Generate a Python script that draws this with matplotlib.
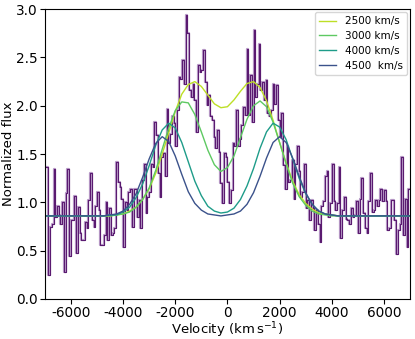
import numpy as np
import matplotlib
matplotlib.use("Agg")
import matplotlib.pyplot as plt

plt.rcParams["axes.unicode_minus"] = False

# observed spectrum, binned (flux per velocity bin, -7000 .. 7000 km/s)
flux = np.array([
    1.37, 1.37, 0.25, 0.75, 0.78, 1.35, 0.85, 0.96, 0.87, 0.78, 1.00, 0.28, 1.10,
    1.35, 0.45, 0.82, 0.82, 1.07, 0.48, 0.95, 0.68, 0.61, 0.61, 0.80, 0.73, 1.02,
    1.30, 0.82, 0.75, 0.96, 1.11, 0.92, 0.56, 0.56, 0.66, 1.00, 0.61, 0.94, 0.66,
    0.68, 0.73, 1.42, 1.21, 1.16, 1.04, 0.54, 1.00, 0.92, 1.11, 1.14, 0.75, 1.14,
    # -3500 .. 0
    1.14, 0.85, 1.02, 0.73, 1.23, 1.40, 0.89, 1.06, 1.11, 1.40, 1.37, 1.83, 1.70,
    1.30, 1.06, 1.47, 1.51, 1.27, 1.97, 1.61, 1.71, 1.89, 1.82, 1.58, 1.96, 2.30,
    2.28, 2.47, 2.23, 2.94, 2.75, 2.16, 2.09, 2.23, 2.06, 1.73, 2.42, 2.35, 2.37,
    2.58, 2.25, 2.01, 2.11, 1.89, 1.85, 1.68, 1.56, 1.75, 1.52, 1.20, 0.99, 1.51,
    1.47,
    # 0 .. 3500
    1.21, 0.99, 1.13, 1.61, 1.58, 1.96, 1.58, 1.66, 1.80, 1.99, 1.90, 2.59, 1.90,
    2.32, 1.83, 2.78, 2.09, 2.23, 2.64, 2.16, 2.25, 2.06, 2.27, 1.92, 1.89, 1.96,
    2.23, 2.02, 2.21, 1.85, 1.68, 1.92, 1.39, 1.14, 1.58, 1.21, 1.23, 1.44, 1.04,
    1.40, 1.58, 1.33, 1.06, 1.11, 1.40, 0.94, 1.02, 0.82, 1.02, 0.94, 0.71, 0.92,
    # 3500 .. 7000
    0.78, 0.59, 0.96, 1.01, 1.27, 1.33, 0.85, 0.99, 1.40, 1.01, 0.92, 0.99, 1.37,
    0.63, 0.92, 1.06, 0.83, 0.82, 0.78, 0.94, 0.85, 0.87, 1.01, 0.68, 1.04, 1.25,
    0.89, 0.73, 0.68, 1.01, 1.30, 0.90, 0.92, 1.02, 0.96, 1.02, 1.14, 1.01, 1.13,
    1.01, 0.71, 0.73, 1.02, 1.02, 0.82, 0.47, 0.71, 0.78, 1.47, 0.66, 1.04, 0.54,
    1.14,
])
edges = np.linspace(-7000, 7000, len(flux) + 1)
vel = 0.5 * (edges[:-1] + edges[1:])

# model profiles, sampled every 250 km/s
model_vel = np.concatenate([[-7000], np.arange(-4750, 4251, 250), [7000]])
m2500 = [0.86,
         0.86, 0.86, 0.87, 0.88, 0.91, 0.95, 1.03, 1.14, 1.30, 1.50,
         1.72, 1.94, 2.12, 2.22, 2.25, 2.20, 2.11, 2.02, 1.98, 1.99,
         2.06, 2.15, 2.23, 2.25, 2.19, 2.05, 1.85, 1.62, 1.41, 1.22,
         1.08, 0.99, 0.93, 0.89, 0.88, 0.87, 0.86,
         0.86]
m3000 = [0.86,
         0.86, 0.86, 0.87, 0.88, 0.90, 0.95, 1.03, 1.15, 1.33, 1.55,
         1.77, 1.95, 2.04, 2.03, 1.91, 1.73, 1.54, 1.39, 1.32, 1.36,
         1.48, 1.67, 1.86, 2.00, 2.05, 1.99, 1.83, 1.62, 1.40, 1.20,
         1.06, 0.97, 0.91, 0.88, 0.87, 0.86, 0.86,
         0.86]
m4000 = [0.86,
         0.86, 0.87, 0.87, 0.90, 0.95, 1.05, 1.19, 1.38, 1.59, 1.75,
         1.82, 1.77, 1.62, 1.42, 1.22, 1.07, 0.96, 0.91, 0.89, 0.90,
         0.94, 1.03, 1.17, 1.35, 1.56, 1.73, 1.82, 1.78, 1.65, 1.45,
         1.25, 1.09, 0.98, 0.91, 0.88, 0.87, 0.86,
         0.86]
m4500 = [0.86,
         0.86, 0.87, 0.88, 0.91, 0.98, 1.09, 1.26, 1.45, 1.61, 1.68,
         1.63, 1.48, 1.29, 1.11, 0.99, 0.92, 0.88, 0.87, 0.86, 0.87,
         0.88, 0.91, 0.98, 1.10, 1.27, 1.46, 1.62, 1.68, 1.62, 1.46,
         1.27, 1.10, 0.98, 0.91, 0.88, 0.87, 0.86,
         0.86]
models = [(m2500, "2500 km/s"), (m3000, "3000 km/s"),
          (m4000, "4000 km/s"), (m4500, "4500  km/s")]
cols = [plt.cm.viridis(c) for c in (0.9, 0.75, 0.55, 0.25)]

fig = plt.figure(figsize=(4.15, 3.39), dpi=100)
ax = fig.add_axes([0.108, 0.118, 0.880, 0.855])

ax.step(vel, flux, where="mid", color="#a27bb6", lw=1.6, alpha=0.75)
ax.step(vel, flux, where="mid", color="#5a1a70", lw=0.8)
for (m, lab), c in zip(models, cols):
    ax.plot(model_vel, m, color=c, lw=1.0, label=lab)

ax.set_xlim(-7000, 7000)
ax.set_ylim(0, 3)
ax.set_xticks([-6000, -4000, -2000, 0, 2000, 4000, 6000])
ax.set_yticks([0, 0.5, 1.0, 1.5, 2.0, 2.5, 3.0])
ax.tick_params(labelsize=9.8, pad=1.5)
ax.set_xlabel(r"Velocity (km$\,$s$^{-1}$)", fontsize=9.5, labelpad=0)
ax.set_ylabel("Normalized flux", fontsize=9.5, labelpad=1)
ax.legend(loc="upper right", fontsize=7.5, handlelength=1.7,
          borderaxespad=0.3, labelspacing=0.45)

fig.savefig("out.png", dpi=100)
